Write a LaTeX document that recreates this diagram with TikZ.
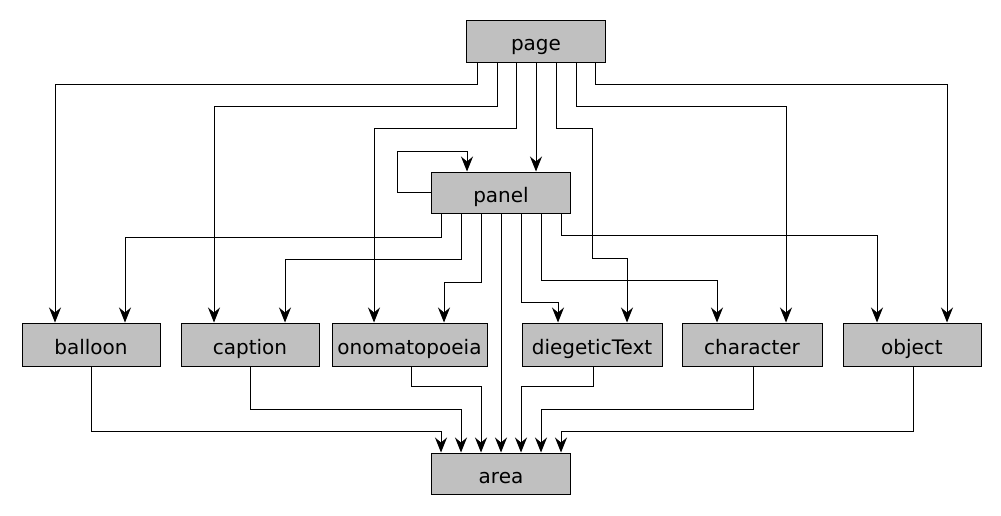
\documentclass[tikz,border=0pt]{standalone}
\usepackage{fontspec}
\setmainfont{DejaVu Sans}
\usetikzlibrary{arrows.meta}
\definecolor{boxgray}{HTML}{C0C0C0}
\tikzset{
  box/.style={draw=black, fill=boxgray, line width=1pt, minimum height=42pt, inner sep=0pt,
    font=\fontsize{20}{22}\selectfont, text height=19pt, text depth=0pt, anchor=center},
  arr/.style={draw=black, line width=1pt, -{Stealth[length=15pt,width=12pt,inset=5pt]}}
}
\begin{document}
\begin{tikzpicture}[x=1pt,y=-1pt]
\useasboundingbox (0,0) rectangle (1001,515);
\node[box, minimum width=139pt] (page) at (536,41) {page};
\node[box, minimum width=139pt, minimum height=41pt] (panel) at (501,192.5) {panel};
\node[box, minimum width=138pt, minimum height=43pt] (balloon) at (91,344.5) {balloon};
\node[box, minimum width=138pt, minimum height=43pt] (caption) at (250,344.5) {caption};
\node[box, minimum width=155pt, minimum height=43pt] (onom) at (409.5,344.5) {onomatopoeia};
\node[box, minimum width=140pt, minimum height=43pt] (dieg) at (592,344.5) {diegeticText};
\node[box, minimum width=140pt, minimum height=43pt] (char) at (752,344.5) {character};
\node[box, minimum width=138pt, minimum height=43pt] (obj) at (912,344.5) {object};
\node[box, minimum width=139pt, minimum height=41pt] (area) at (501,473.5) {area};

% page -> ...
\draw[arr] ([xshift=-59pt]page.south) |- (55,84) -- ([xshift=-36pt]balloon.north);
\draw[arr] ([xshift=-39pt]page.south) |- (214,106) -- ([xshift=-36pt]caption.north);
\draw[arr] ([xshift=-20pt]page.south) |- (374,128) -- ([xshift=-35.5pt]onom.north);
\draw[arr] (page.south) -- ([xshift=35pt]panel.north);
\draw[arr] ([xshift=20pt]page.south) |- (592,128) |- (627,258) -- ([xshift=35pt]dieg.north);
\draw[arr] ([xshift=40pt]page.south) |- (786,106) -- ([xshift=34pt]char.north);
\draw[arr] ([xshift=59pt]page.south) |- (947,84) -- ([xshift=35pt]obj.north);

% panel self loop
\draw[arr] (panel.west) -| (397,151) -| ([xshift=-34pt]panel.north);

% panel -> ...
\draw[arr] ([xshift=-60pt]panel.south) |- (125,237) -- ([xshift=34pt]balloon.north);
\draw[arr] ([xshift=-40pt]panel.south) |- (285,259) -- ([xshift=35pt]caption.north);
\draw[arr] ([xshift=-20pt]panel.south) |- (444,282) -- ([xshift=34.5pt]onom.north);
\draw[arr] (panel.south) -- (area.north);
\draw[arr] ([xshift=20pt]panel.south) |- (558,302) -- ([xshift=-34pt]dieg.north);
\draw[arr] ([xshift=40pt]panel.south) |- (717,280) -- ([xshift=-35pt]char.north);
\draw[arr] ([xshift=60pt]panel.south) |- (877,235) -- ([xshift=-35pt]obj.north);

% ... -> area
\draw[arr] (balloon.south) |- (441,431) -- ([xshift=-60pt]area.north);
\draw[arr] (caption.south) |- (461,409) -- ([xshift=-40pt]area.north);
\draw[arr] ([xshift=1.5pt]onom.south) |- (481,386) -- ([xshift=-20pt]area.north);
\draw[arr] ([xshift=1pt]dieg.south) |- (521,386) -- ([xshift=20pt]area.north);
\draw[arr] ([xshift=1pt]char.south) |- (541,409) -- ([xshift=40pt]area.north);
\draw[arr] ([xshift=1pt]obj.south) |- (561,431) -- ([xshift=60pt]area.north);
\end{tikzpicture}
\end{document}
